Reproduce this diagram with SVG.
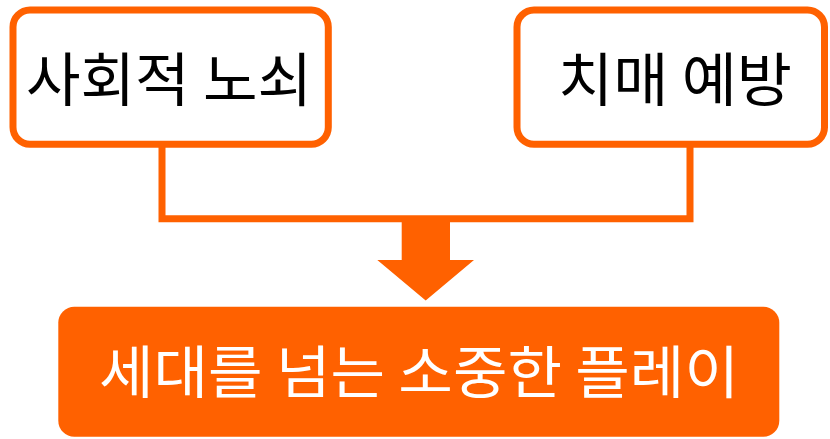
<svg xmlns="http://www.w3.org/2000/svg" width="830" height="439" viewBox="0 0 830 439">
  <style>
    .box { fill: #ffffff; stroke: #FF6100; stroke-width: 7; }
    .main { fill: #FF6100; }
    .lbl { font-family: "Noto Sans CJK KR", "Noto Sans", sans-serif; font-size: 58px; fill: #000000; text-anchor: middle; }
    .lblw { font-family: "Noto Sans CJK KR", "Noto Sans", sans-serif; font-size: 57px; fill: #ffffff; text-anchor: middle; }
    .conn { fill: none; stroke: #FF6100; stroke-width: 7; }
    .arrow { fill: #FF6100; }
  </style>
  <g id="connectors">
    <path class="conn" d="M162,147 V218.7 H690 V147"/>
    <polygon class="arrow" points="401.7,218 450,218 450,260 474,260 425.7,300.5 377.3,260 401.7,260"/>
  </g>
  <g id="node-social-frailty">
    <rect class="box" x="13" y="10" width="315.3" height="134.3" rx="17"/>
    <text class="lbl" x="169" y="101" textLength="286" lengthAdjust="spacingAndGlyphs">사회적 노쇠</text>
  </g>
  <g id="node-dementia-prevention">
    <rect class="box" x="517" y="10" width="307.5" height="134.3" rx="17"/>
    <text class="lbl" x="675" y="101" textLength="234" lengthAdjust="spacingAndGlyphs">치매 예방</text>
  </g>
  <g id="node-play">
    <rect class="main" x="58.3" y="306.7" width="721" height="130" rx="16"/>
    <text class="lblw" x="419" y="393" textLength="640" lengthAdjust="spacingAndGlyphs">세대를 넘는 소중한 플레이</text>
  </g>
</svg>
